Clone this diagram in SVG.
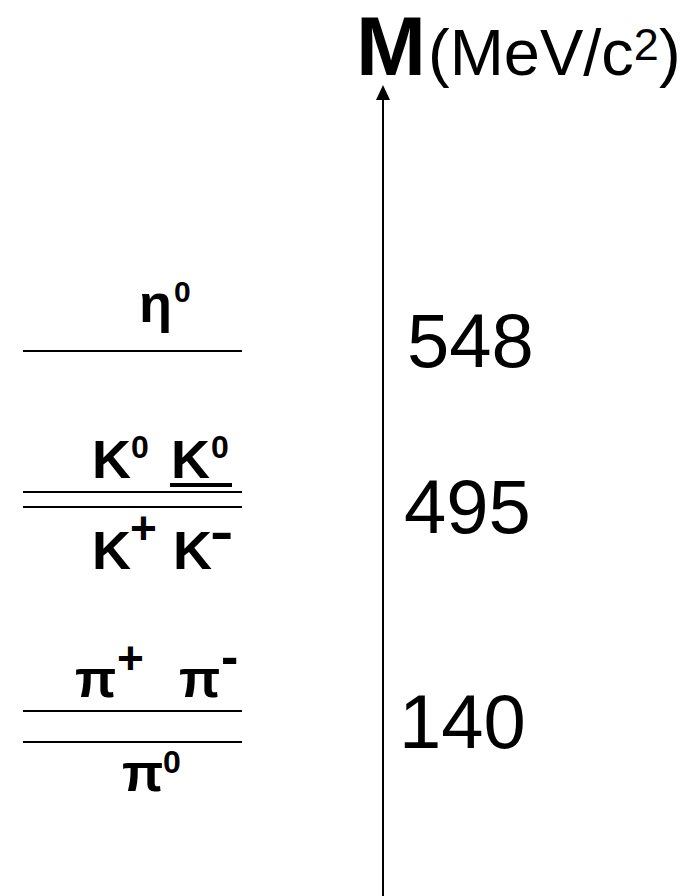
<svg xmlns="http://www.w3.org/2000/svg" width="695" height="896" viewBox="0 0 695 896">
<style>
text{font-family:"Liberation Sans",Arial,sans-serif;fill:#000}
.b{font-weight:bold}
.p{font-size:54px;font-weight:bold}
.s{font-size:32px;font-weight:bold}
.n{font-size:76px}
.lvl{stroke:#000;stroke-width:2;fill:none}
</style>
<g id="connectors">
<line x1="383" y1="896" x2="383" y2="98" stroke="#000" stroke-width="2"/>
<path d="M376,100 L383,85 L390,100 Z" fill="#000"/>
</g>
<g id="axis-label">
<text x="356" y="75" class="b" font-size="84">M</text>
<text x="428" y="75" font-size="65">(MeV/c<tspan font-size="45" dy="-15">2</tspan><tspan dy="15">)</tspan></text>
</g>
<g id="eta">
<text x="139" y="322" class="p">η</text>
<text x="174" y="302" font-size="30" class="b">0</text>
<line class="lvl" x1="23" y1="351" x2="242" y2="351"/>
<text x="407" y="367" class="n">548</text>
</g>
<g id="kaon">
<text x="92" y="478" class="p">K</text>
<text x="131" y="458" class="s">0</text>
<text x="171" y="478" class="p">K</text>
<text x="211" y="458" class="s">0</text>
<line x1="170" y1="485" x2="232" y2="485" stroke="#000" stroke-width="4"/>
<line class="lvl" x1="23" y1="492" x2="242" y2="492"/>
<line class="lvl" x1="23" y1="507" x2="242" y2="507"/>
<text x="92" y="569" class="p">K</text>
<text x="130" y="544" font-size="46" class="b">+</text>
<text x="173" y="569" class="p">K</text>
<text transform="translate(210,549) scale(1.35,1)" font-size="52" class="b">-</text>
<text x="404" y="533" class="n">495</text>
</g>
<g id="pion">
<text x="75" y="697" class="p">π</text>
<text x="117" y="674" font-size="46" class="b">+</text>
<text x="179" y="697" class="p">π</text>
<text x="221" y="674" font-size="52" class="b">-</text>
<line class="lvl" x1="23" y1="711" x2="242" y2="711"/>
<line class="lvl" x1="23" y1="742" x2="242" y2="742"/>
<text x="122" y="791" class="p">π</text>
<text x="163" y="773" class="s">0</text>
<text x="399" y="748" class="n">140</text>
</g>
</svg>
